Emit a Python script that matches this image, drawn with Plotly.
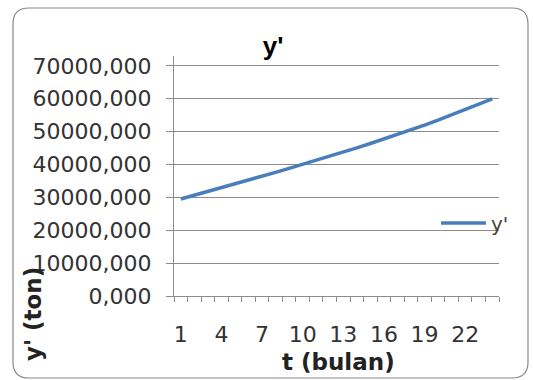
import plotly.graph_objects as go

t_vals = list(range(1, 25))
y_vals = [29500, 30630, 31770, 32920, 34080, 35250, 36430, 37620, 38820, 40030,
          41260, 42500, 43770, 45060, 46380, 47730, 49110, 50530, 51990, 53490,
          55040, 56640, 58270, 59950]
series_name = "y'"
y_tick_vals = [0, 10000, 20000, 30000, 40000, 50000, 60000, 70000]
y_tick_text = ["0,000", "10000,000", "20000,000", "30000,000", "40000,000",
               "50000,000", "60000,000", "70000,000"]
x_tick_vals = [1, 4, 7, 10, 13, 16, 19, 22]
x_tick_text = ["1", "4", "7", "10", "13", "16", "19", "22"]

W, H = 533, 380
L, R, T, B = 174, 34, 56, 84
pw, ph = W - L - R, H - T - B

def px(x):
    return (x - L) / pw

def py(y):
    return (H - B - y) / ph

x0, y0, x1, y1, r = 13, 8, 528, 378, 16
path = (f"M {px(x0+r)},{py(y0)} L {px(x1-r)},{py(y0)} Q {px(x1)},{py(y0)} {px(x1)},{py(y0+r)} "
        f"L {px(x1)},{py(y1-r)} Q {px(x1)},{py(y1)} {px(x1-r)},{py(y1)} "
        f"L {px(x0+r)},{py(y1)} Q {px(x0)},{py(y1)} {px(x0)},{py(y1-r)} "
        f"L {px(x0)},{py(y0+r)} Q {px(x0)},{py(y0)} {px(x0+r)},{py(y0)} Z")

grid = "#8c8c8c"

fig = go.Figure()
fig.add_trace(go.Scatter(x=t_vals, y=y_vals, mode="lines", name=series_name,
                         line=dict(color="#4a7ebb", width=3.5)))

fig.update_layout(
    width=W, height=H,
    margin=dict(l=L, r=R, t=T, b=B),
    paper_bgcolor="white", plot_bgcolor="white",
    title=dict(text="<b>y'</b>", xref="paper", x=px(273), xanchor="center",
               yref="container", y=1 - 46 / H, yanchor="middle",
               font=dict(family="Liberation Sans, Arial", size=26, color="black")),
    font=dict(family="DejaVu Sans, Verdana", size=20, color="#222"),
    showlegend=True,
    legend=dict(x=px(436), y=py(223), xanchor="left", yanchor="middle",
                bgcolor="rgba(0,0,0,0)", font=dict(size=20, color="#444"),
                itemwidth=45, tracegroupgap=0),
    shapes=[dict(type="path", xref="paper", yref="paper", path=path,
                 line=dict(color="#8a8a8a", width=1.2), layer="below")],
    annotations=[
        dict(text="<b>y' (ton)</b>", xref="paper", yref="paper", x=px(33), y=py(314),
             textangle=-90, showarrow=False, xanchor="center", yanchor="middle",
             font=dict(family="DejaVu Sans, Verdana", size=23, color="#222")),
        dict(text="<b>t (bulan)</b>", xref="paper", yref="paper", x=px(338), y=py(362),
             showarrow=False, xanchor="center", yanchor="middle",
             font=dict(family="DejaVu Sans, Verdana", size=23, color="#222")),
    ],
)

fig.update_yaxes(range=[0, 73000], tickvals=y_tick_vals, ticktext=y_tick_text,
                 showgrid=True, gridcolor=grid, gridwidth=1.3,
                 ticks="outside", ticklen=7, tickcolor=grid,
                 ticklabelstandoff=10,
                 showline=True, linecolor=grid, linewidth=1,
                 zeroline=False, tickfont=dict(size=22, color="#333"))
fig.update_xaxes(range=[0.5, 24.5], tickvals=x_tick_vals, ticktext=x_tick_text,
                 showgrid=False, ticks="", ticklen=0,
                 ticklabelstandoff=19,
                 showline=True, linecolor=grid, linewidth=1,
                 zeroline=False, tickfont=dict(size=22, color="#333"),
                 minor=dict(tickvals=[i + 0.5 for i in range(0, 25)], ticks="outside",
                            ticklen=5, tickcolor=grid, showgrid=False))

fig.write_html("out.html")
